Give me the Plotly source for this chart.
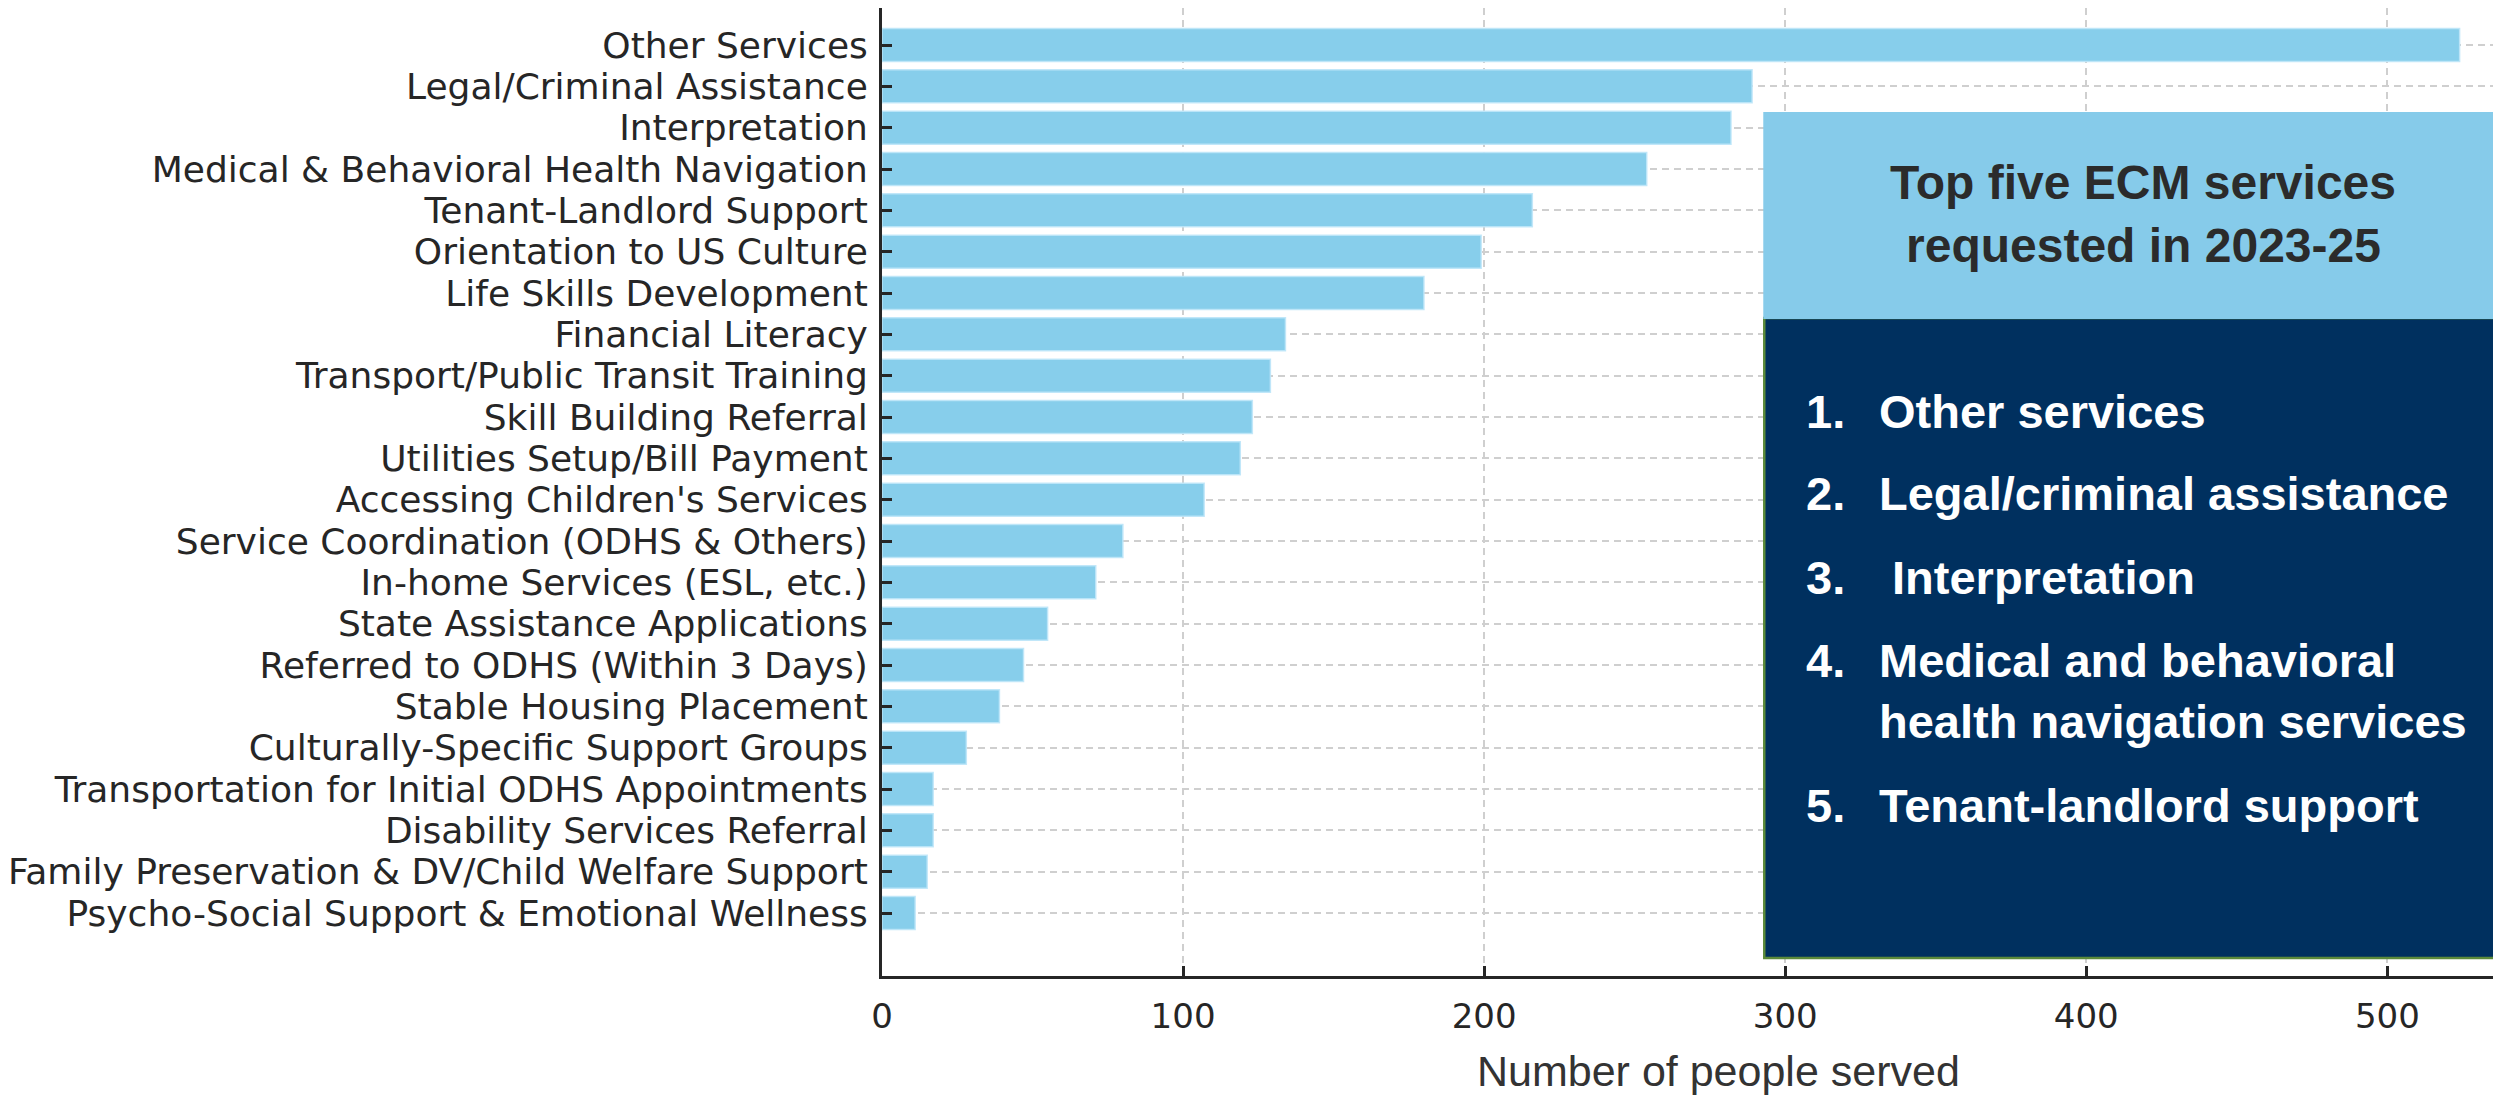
import plotly.graph_objects as go

categories = [
    "Other Services",
    "Legal/Criminal Assistance",
    "Interpretation",
    "Medical & Behavioral Health Navigation",
    "Tenant-Landlord Support",
    "Orientation to US Culture",
    "Life Skills Development",
    "Financial Literacy",
    "Transport/Public Transit Training",
    "Skill Building Referral",
    "Utilities Setup/Bill Payment",
    "Accessing Children's Services",
    "Service Coordination (ODHS & Others)",
    "In-home Services (ESL, etc.)",
    "State Assistance Applications",
    "Referred to ODHS (Within 3 Days)",
    "Stable Housing Placement",
    "Culturally-Specific Support Groups",
    "Transportation for Initial ODHS Appointments",
    "Disability Services Referral",
    "Family Preservation & DV/Child Welfare Support",
    "Psycho-Social Support & Emotional Wellness",
]
people_served = [524, 289, 282, 254, 216, 199, 180, 134, 129, 123, 119, 107,
                 80, 71, 55, 47, 39, 28, 17, 17, 15, 11]

x_ticks = [0, 100, 200, 300, 400, 500]
x_title = "Number of people served"

box_title = ["Top five ECM services", "requested in 2023-25"]
top_numbers = ["1.", "2.", "3.", "4.", "", "5."]
top_items = ["Other services", "Legal/criminal assistance", "&nbsp;Interpretation",
             "Medical and behavioral", "health navigation services",
             "Tenant-landlord support"]

# page body has an 8px default margin; work in reference-image pixels
OFF = 8
W, H = 2501 - OFF, 1095 - OFF
L, R, T, B = 877, 2501, 8, 976   # plot area in reference pixels
PW, PH = R - L, B - T
first_c, step = 45.0, (913.0 - 45.0) / 21.0


def px(x):
    return (x - L) / PW


def py(y):
    return (B - y) / PH


fig = go.Figure()
fig.add_trace(go.Bar(
    x=people_served,
    y=categories,
    orientation="h",
    width=0.8,
    marker=dict(color="#87CEEB", line=dict(color="rgba(190,230,248,0.9)", width=1.5)),
    hoverinfo="x+y",
))

fig.update_layout(
    width=W, height=H,
    margin=dict(l=L - OFF, r=0, t=T - OFF, b=(1095 - B), pad=0),
    paper_bgcolor="white",
    plot_bgcolor="white",
    showlegend=False,
    bargap=0.2,
)

fig.update_xaxes(
    range=[0, PW / 3.02],
    tickmode="array",
    tickvals=x_ticks,
    ticktext=[str(v) for v in x_ticks],
    showgrid=True, gridcolor="#cfcfcf", gridwidth=2, griddash="7px,5px",
    showline=True, linecolor="#262626", linewidth=3,
    ticks="inside", ticklen=10, tickwidth=2.5, tickcolor="#262626",
    tickfont=dict(family="DejaVu Sans", size=34, color="#262626"),
    ticklabelstandoff=8,
    zeroline=False,
    layer="above traces",
)
fig.update_yaxes(
    type="category",
    categoryorder="array", categoryarray=categories,
    tickmode="array", tickvals=categories, ticktext=categories,
    range=[21 + (B - 913.0) / step, -(first_c - T) / step],
    showgrid=True, gridcolor="#cfcfcf", gridwidth=2, griddash="7px,5px",
    showline=True, linecolor="#262626", linewidth=3,
    ticks="inside", ticklen=10, tickwidth=2.5, tickcolor="#262626",
    tickfont=dict(family="DejaVu Sans", size=36, color="#262626"),
    ticklabelstandoff=4,
    zeroline=False,
    layer="above traces",
)

# dark navy box with green outline
fig.add_shape(type="rect", xref="paper", yref="paper",
              x0=px(1762), x1=px(2500), y0=py(958), y1=py(318),
              fillcolor="#00305F", line=dict(color="#5B8A3A", width=2.5),
              layer="above")
# light blue header box
fig.add_shape(type="rect", xref="paper", yref="paper",
              x0=px(1761), x1=px(2504), y0=py(319), y1=py(112),
              fillcolor="#86CBEA", line=dict(width=0),
              layer="above")

for txt, yy in zip(box_title, [183, 245]):
    fig.add_annotation(xref="paper", yref="paper", x=px(2142), y=py(yy),
                       text="<b>" + txt + "</b>", showarrow=False,
                       xanchor="center", yanchor="middle",
                       font=dict(family="Liberation Sans, Arial", size=48, color="#2B2B2B"))

item_y = [411, 494, 577, 660, 722, 805]
for num, item, yy in zip(top_numbers, top_items, item_y):
    if num:
        fig.add_annotation(xref="paper", yref="paper", x=px(1802), y=py(yy),
                           text="<b>" + num + "</b>", showarrow=False,
                           xanchor="left", yanchor="middle",
                           font=dict(family="Liberation Sans, Arial", size=47, color="white"))
    fig.add_annotation(xref="paper", yref="paper", x=px(1875), y=py(yy),
                       text="<b>" + item + "</b>", showarrow=False,
                       xanchor="left", yanchor="middle",
                       font=dict(family="Liberation Sans, Arial", size=47, color="white"))

fig.add_annotation(xref="paper", yref="paper", x=px(1716), y=py(1071),
                   text=x_title, showarrow=False,
                   xanchor="center", yanchor="middle",
                   font=dict(family="Liberation Sans, Arial", size=43, color="#333333"))

fig.write_html("out.html")
